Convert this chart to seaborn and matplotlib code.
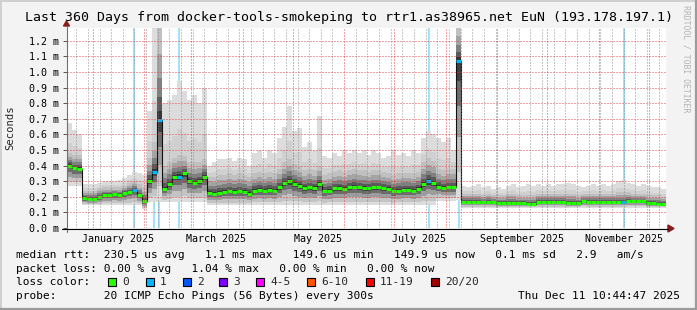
import numpy as np
import pandas as pd
import matplotlib
matplotlib.use("Agg")
import matplotlib.pyplot as plt
import seaborn as sns
from matplotlib.patches import Polygon, Rectangle
from matplotlib.lines import Line2D

# ---------------- data (values in milliseconds, 3-day bins) ----------------
END = pd.Timestamp("2025-12-11 10:44:47")
START = END - pd.Timedelta(days=360)
BIN_DAYS = 3

median = [0.40, 0.385, 0.38, 0.19, 0.185, 0.185, 0.20, 0.21, 0.21, 0.215,
          0.21, 0.225, 0.23, 0.245, 0.21, 0.17, 0.30, 0.36, 0.69, 0.25,
          0.28, 0.33, 0.33, 0.35, 0.30, 0.29, 0.30, 0.33, 0.225, 0.22,
          0.225, 0.23, 0.235, 0.23, 0.235, 0.23, 0.22, 0.24, 0.245, 0.24,
          0.245, 0.24, 0.26, 0.29, 0.30, 0.28, 0.27, 0.255, 0.26, 0.255,
          0.28, 0.235, 0.24, 0.255, 0.255, 0.25, 0.26, 0.265, 0.26, 0.255,
          0.255, 0.26, 0.26, 0.255, 0.25, 0.235, 0.24, 0.245, 0.245, 0.24,
          0.25, 0.28, 0.30, 0.29, 0.265, 0.255, 0.26, 0.26, 1.07, 0.165,
          0.165, 0.165, 0.165, 0.165, 0.165, 0.165, 0.16, 0.16, 0.16, 0.16,
          0.16, 0.16, 0.155, 0.155, 0.165, 0.165, 0.165, 0.165, 0.165, 0.165,
          0.16, 0.16, 0.16, 0.17, 0.165, 0.165, 0.165, 0.165, 0.165, 0.165,
          0.165, 0.165, 0.17, 0.17, 0.17, 0.17, 0.16, 0.16, 0.155, 0.155]

smoke_high = [0.67, 0.63, 0.60, 0.28, 0.28, 0.28, 0.29, 0.30, 0.30, 0.30,
              0.31, 0.32, 0.34, 0.36, 0.35, 0.34, 0.75, 1.30, 1.30, 0.80,
              0.82, 0.85, 0.94, 0.88, 0.82, 0.85, 0.80, 0.90, 0.40, 0.42,
              0.44, 0.44, 0.45, 0.43, 0.45, 0.44, 0.40, 0.48, 0.50, 0.45,
              0.50, 0.48, 0.58, 0.65, 0.78, 0.62, 0.64, 0.52, 0.55, 0.50,
              0.72, 0.46, 0.45, 0.48, 0.46, 0.50, 0.48, 0.50, 0.48, 0.50,
              0.47, 0.50, 0.48, 0.45, 0.46, 0.50, 0.47, 0.48, 0.46, 0.50,
              0.48, 0.58, 0.62, 0.60, 0.58, 0.55, 0.58, 0.50, 1.30, 0.27,
              0.26, 0.27, 0.28, 0.26, 0.27, 0.25, 0.26, 0.25, 0.27, 0.28,
              0.26, 0.27, 0.28, 0.27, 0.28, 0.27, 0.28, 0.27, 0.28, 0.28,
              0.29, 0.28, 0.27, 0.26, 0.27, 0.28, 0.27, 0.28, 0.27, 0.28,
              0.30, 0.31, 0.29, 0.28, 0.27, 0.28, 0.27, 0.26, 0.26, 0.25]

smoke_upper = [0.48, 0.47, 0.47, 0.24, 0.24, 0.24, 0.25, 0.26, 0.26, 0.26,
               0.26, 0.27, 0.29, 0.30, 0.28, 0.26, 0.45, 0.55, 1.30, 0.40,
               0.42, 0.45, 0.47, 0.46, 0.42, 0.42, 0.42, 0.44, 0.33, 0.33,
               0.34, 0.34, 0.35, 0.34, 0.35, 0.34, 0.33, 0.35, 0.36, 0.35,
               0.36, 0.35, 0.38, 0.42, 0.44, 0.41, 0.40, 0.37, 0.38, 0.37,
               0.40, 0.34, 0.35, 0.36, 0.37, 0.36, 0.37, 0.38, 0.37, 0.37,
               0.36, 0.37, 0.37, 0.36, 0.35, 0.34, 0.35, 0.35, 0.35, 0.35,
               0.36, 0.42, 0.45, 0.43, 0.38, 0.37, 0.38, 0.38, 1.30, 0.22,
               0.22, 0.22, 0.22, 0.21, 0.22, 0.21, 0.21, 0.21, 0.22, 0.22,
               0.21, 0.21, 0.21, 0.21, 0.22, 0.22, 0.22, 0.22, 0.22, 0.22,
               0.22, 0.22, 0.21, 0.22, 0.22, 0.22, 0.22, 0.22, 0.22, 0.22,
               0.23, 0.23, 0.23, 0.22, 0.22, 0.22, 0.21, 0.21, 0.21, 0.20]

smoke_low = [0.27, 0.27, 0.27, 0.145, 0.145, 0.145, 0.145, 0.145, 0.145, 0.145,
             0.145, 0.145, 0.145, 0.145, 0.145, 0.12, 0.165, 0.165, 0.165, 0.165,
             0.165, 0.165, 0.165, 0.165, 0.165, 0.165, 0.165, 0.165, 0.145, 0.145,
             0.145, 0.145, 0.145, 0.145, 0.145, 0.145, 0.145, 0.145, 0.145, 0.145,
             0.145, 0.145, 0.145, 0.145, 0.145, 0.145, 0.145, 0.145, 0.145, 0.145,
             0.145, 0.145, 0.145, 0.145, 0.145, 0.145, 0.145, 0.145, 0.145, 0.145,
             0.145, 0.145, 0.145, 0.145, 0.145, 0.145, 0.145, 0.145, 0.145, 0.145,
             0.145, 0.145, 0.145, 0.145, 0.175, 0.175, 0.175, 0.175, 0.18, 0.13,
             0.13, 0.13, 0.13, 0.13, 0.13, 0.13, 0.13, 0.13, 0.13, 0.13,
             0.13, 0.13, 0.13, 0.13, 0.13, 0.13, 0.13, 0.13, 0.13, 0.13,
             0.13, 0.13, 0.13, 0.13, 0.13, 0.13, 0.13, 0.13, 0.13, 0.13,
             0.13, 0.13, 0.13, 0.13, 0.13, 0.13, 0.13, 0.13, 0.13, 0.13]

loss_bins = [13, 17, 18, 22, 72, 78, 111]
loss_counts = [1, 1, 1, 1, 1, 1, 1]

y_ticks = [0.0, 0.1, 0.2, 0.3, 0.4, 0.5, 0.6, 0.7, 0.8, 0.9, 1.0, 1.1, 1.2]
month_labels = ["January 2025", "March 2025", "May 2025", "July 2025",
                "September 2025", "November 2025"]
month_label_starts = ["2025-01-01", "2025-03-01", "2025-05-01", "2025-07-01",
                      "2025-09-01", "2025-11-01"]

title = "Last 360 Days from docker-tools-smokeping to rtr1.as38965.net EuN (193.178.197.1)"
legend_lines = [
    "median rtt:  230.5 us avg   1.1 ms max   149.6 us min   149.9 us now   0.1 ms sd   2.9   am/s",
    "packet loss: 0.00 % avg   1.04 % max   0.00 % min   0.00 % now",
    "loss color:",
    "probe:       20 ICMP Echo Pings (56 Bytes) every 300s",
]
timestamp = "Thu Dec 11 10:44:47 2025"
loss_legend = [("0", "#26ff00", 108), ("1", "#00b8ff", 146), ("2", "#0059ff", 183),
               ("3", "#7e00ff", 219), ("4-5", "#ff00ff", 256), ("6-10", "#ff5500", 307),
               ("11-19", "#ff0000", 366), ("20/20", "#a10000", 431)]
loss_color_of = {0: "#26ff00", 1: "#00b8ff", 2: "#0059ff", 3: "#7e00ff"}

# ---------------- figure ----------------
W, H = 697, 310
sns.set_theme(style="white")
plt.rcParams["font.family"] = ["DejaVu Sans Mono", "DejaVu Sans"]

fig = plt.figure(figsize=(W / 100, H / 100), dpi=100)
fig.patch.set_facecolor("#f3f3f3")

L, R, T, B = 67, 666, 28, 228
ax = fig.add_axes([L / W, 1 - B / H, (R - L) / W, (B - T) / H])
ax.set_facecolor("white")
for s in ax.spines.values():
    s.set_visible(False)

def px(x, y):
    return x / W, 1 - y / H

def days(ts):
    return (pd.Timestamp(ts) - START) / pd.Timedelta(days=1)

n = len(median)
times = pd.date_range(START, periods=n, freq=f"{BIN_DAYS}D")
xd = np.array([days(t) for t in times])
x_edges = np.append(xd, xd[-1] + BIN_DAYS)

med = np.array(median)
hi = np.array(smoke_high)
up = np.array(smoke_upper)
lo = np.array(smoke_low)

def ext(a):
    return np.append(a, a[-1])

# loss background bars
loss = np.zeros(n, dtype=int)
for b, c in zip(loss_bins, loss_counts):
    loss[b] = c
for b in loss_bins:
    ax.axvline(xd[b] + BIN_DAYS / 2, color="#a4e2f8", lw=1.5, zorder=1.5)

# smoke layers
fk = dict(step="post", lw=0, zorder=2)
ax.fill_between(x_edges, ext(lo), ext(hi), color="#dcdcdc", **fk)
ax.fill_between(x_edges, ext(med), ext(up + (hi - up) * 0.35), color="#d0d0d0", **fk)
ax.fill_between(x_edges, ext(med), ext(up), color="#c0c0c0", **fk)
for frac, col in [(0.7, "#a4a4a4"), (0.45, "#808080"), (0.25, "#5a5a5a"), (0.1, "#363636")]:
    ax.fill_between(x_edges, ext(med), ext(med + (up - med) * frac), color=col, **fk)
for frac, col in [(0.8, "#c4c4c4"), (0.55, "#9c9c9c"), (0.32, "#6c6c6c"), (0.14, "#424242")]:
    ax.fill_between(x_edges, ext(med - (med - lo) * frac), ext(med), color=col, **fk)

# median
sns.lineplot(x=x_edges, y=ext(med), drawstyle="steps-post", color="#111111",
             lw=0.8, ax=ax, zorder=3, sort=False)
ax.hlines(med, xd, xd + BIN_DAYS, colors=[loss_color_of[c] for c in loss],
          lw=2.2, zorder=4)

# grid (dotted, crisp, semi-transparent over the data)
month_starts = pd.date_range(START.normalize(), END, freq="MS")
weeks = pd.date_range(START.normalize(), END, freq="W-SUN")
mdays = [days(m) for m in month_starts]
gk = dict(lw=1.0, ls=(0, (1, 1)), zorder=5, antialiased=False)
for w in weeks:
    dw = days(w)
    if dw > 0 and all(abs(dw - m) > 0.5 for m in mdays):
        ax.axvline(dw, color="#808080", alpha=0.42, **gk)
for m in mdays:
    ax.axvline(m, color="#e83030", alpha=0.45, **gk)
for v in y_ticks[1:]:
    ax.axhline(v, color="#e83030", alpha=0.45, **gk)

ax.set_xlim(0, 360)
ax.set_ylim(0, 1.282)
ax.set_yticks(y_ticks)
ax.set_yticklabels([f"{v:.1f} m" for v in y_ticks])
ax.tick_params(axis="y", length=3, width=0.7, color="#555555", pad=2.5,
               labelsize=7.2, labelcolor="black", direction="out", left=True)
lab_pos = [days(pd.Timestamp(s)) + 15 for s in month_label_starts]
ax.set_xticks(lab_pos)
ax.set_xticklabels(month_labels)
ax.tick_params(axis="x", length=0, pad=4, labelsize=7.2, labelcolor="black")
ax.set_xlabel("")
ax.set_ylabel("")

# axes lines and arrows (figure pixel coords)
def fline(x0, y0, x1, y1, color, lw=0.8):
    fig.add_artist(Line2D([x0 / W, x1 / W], [1 - y0 / H, 1 - y1 / H],
                          color=color, lw=lw, transform=fig.transFigure))

fline(66.5, 232, 66.5, 26, "#707070")
fline(62, 228.5, 668, 228.5, "#000000")
fig.add_artist(Polygon([px(668, 225), px(674, 228.5), px(668, 232)], closed=True,
                       color="#8b1a1a", transform=fig.transFigure))
fig.add_artist(Polygon([px(63.5, 26), px(66.5, 21), px(69.5, 26)], closed=True,
                       color="#8b1a1a", transform=fig.transFigure))

# texts
fig.text(*px(25, 18), title, fontsize=9.55, ha="left", va="center", color="black")
fig.text(*px(10, 128), "Seconds", fontsize=7.6, rotation=90, ha="center", va="center")
fig.text(*px(686, 5), "RRDTOOL / TOBI OETIKER", fontsize=5.9, rotation=270,
         ha="center", va="top", color="#b4b4b4")

row_y = [255, 268.5, 282, 296]
for s, yy in zip(legend_lines, row_y):
    fig.text(*px(16, yy), s, fontsize=8.05, ha="left", va="center", color="black")
fig.text(*px(680, 296), timestamp, fontsize=8.05, ha="right", va="center", color="black")
for label, col, bx in loss_legend:
    fig.add_artist(Rectangle(px(bx, 286), 8 / W, 8 / H, facecolor=col,
                             edgecolor="black", lw=0.8, transform=fig.transFigure))
    fig.text(*px(bx + 14, 282), label, fontsize=8.05, ha="left", va="center")

# 3D frame
fline(0, 1, W, 1, "#d0d0d0", 1.4)
fline(1, 0, 1, H, "#d0d0d0", 1.4)
fline(0, H - 1, W, H - 1, "#9c9c9c", 1.6)
fline(W - 1, 0, W - 1, H, "#9c9c9c", 1.6)

fig.savefig("out.png", dpi=100, facecolor=fig.get_facecolor())
